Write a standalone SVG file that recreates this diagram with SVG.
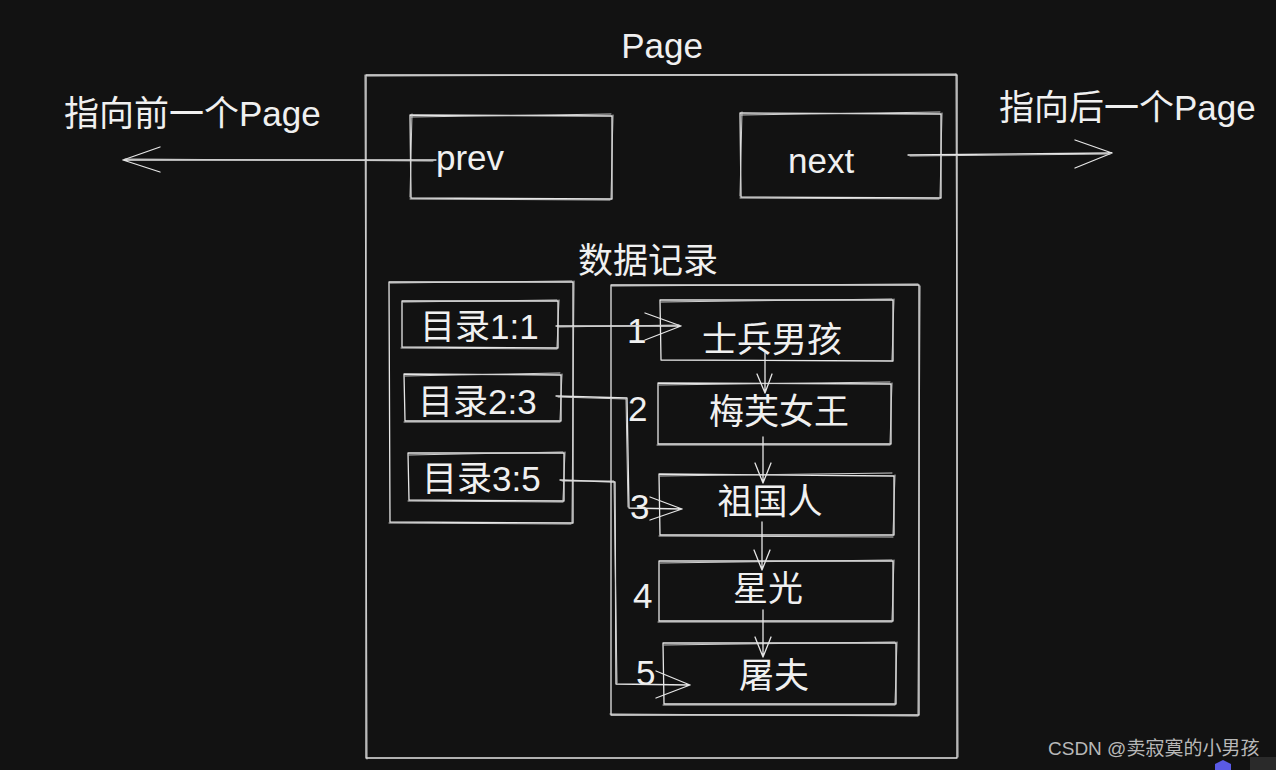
<svg xmlns="http://www.w3.org/2000/svg" width="1276" height="770" viewBox="0 0 1276 770">
<style>
.s{fill:none;stroke:#e6e6e6;stroke-width:1.3;stroke-linecap:round;stroke-linejoin:round}
.s2{fill:none;stroke:#cfcfcf;stroke-width:1;stroke-linecap:round}
.t{fill:#f0f0f0;font-family:"Liberation Sans","Noto Sans CJK SC",sans-serif;font-size:35px}
.c{text-anchor:middle}
.w{fill:#b8b8b8;font-family:"Liberation Sans","Noto Sans CJK SC",sans-serif;font-size:19px}
</style>
<rect width="1276" height="770" fill="#121212"/>
<g id="page">
<path class="s" d="M366 75 L957 75 L957 758 L366 758 Z"/>
<path class="s2" d="M367 76 L956 74 M956 74 L958 757 M365 75 L367 759"/>
<text class="t c" x="662" y="58">Page</text>
</g>
<g id="prev">
<path class="s" d="M410 115 L612 116 L612 199 L411 198 Z"/>
<path class="s2" d="M411 117 L611 114 M613 115 L611 198 M410 199 L610 200 M412 114 L410 197"/>
<text class="t" x="436" y="170">prev</text>
</g>
<g id="next">
<path class="s" d="M740 113 L941 114 L941 198 L741 197 Z"/>
<path class="s2" d="M741 115 L940 112 M942 113 L940 197 M740 198 L939 199 M742 112 L740 196"/>
<text class="t" x="788" y="173">next</text>
</g>
<g id="label-prev"><text class="t" x="64" y="126" font-size="37">指向前一个Page</text></g>
<g id="label-next"><text class="t" x="999" y="120" font-size="37">指向后一个Page</text></g>
<g id="data-title"><text class="t" x="578" y="273" font-size="38">数据记录</text></g>
<g id="dir">
<path class="s" d="M389 282 L573 282 L573 523 L390 522 Z"/>
<path class="s2" d="M390 283 L572 281 M574 281 L572 522 M389 523 L571 524"/>
</g>
<g id="dir1">
<path class="s" d="M402 301 L558 301 L558 348 L402 347 Z"/>
<path class="s2" d="M403 302 L557 300 M559 300 L557 347 M401 348 L557 349"/>
<text class="t" x="420" y="339">目录1:1</text>
</g>
<g id="dir2">
<path class="s" d="M404 374 L561 375 L561 421 L405 421 Z"/>
<path class="s2" d="M405 376 L560 373 M562 374 L560 420 M404 422 L560 422"/>
<text class="t" x="418" y="414">目录2:3</text>
</g>
<g id="dir3">
<path class="s" d="M408 453 L564 453 L564 501 L409 500 Z"/>
<path class="s2" d="M409 455 L563 452 M565 452 L563 500 M408 501 L563 502"/>
<text class="t" x="422" y="491">目录3:5</text>
</g>
<g id="data">
<path class="s" d="M611 285 L919 285 L919 715 L611 715 Z"/>
<path class="s2" d="M612 286 L918 284 M920 286 L918 714 M610 714 L918 716"/>
</g>
<g id="rec1">
<path class="s" d="M660 300 L893 300 L893 361 L661 360 Z"/>
<path class="s2" d="M661 302 L892 299 M894 299 L892 360"/>
<text class="t c" x="772" y="352">士兵男孩</text>
</g>
<g id="rec2">
<path class="s" d="M658 383 L891 384 L891 444 L658 444 Z"/>
<path class="s2" d="M659 385 L890 382 M892 383 L890 443 M657 445 L890 445"/>
<text class="t c" x="779" y="424">梅芙女王</text>
</g>
<g id="rec3">
<path class="s" d="M659 474 L894 476 L894 535 L660 535 Z"/>
<path class="s2" d="M660 476 L892 473 M895 475 L893 534 M659 536 L893 537"/>
<text class="t c" x="770" y="514">祖国人</text>
</g>
<g id="rec4">
<path class="s" d="M659 561 L893 561 L893 621 L659 621 Z"/>
<path class="s2" d="M660 563 L892 560 M894 560 L892 620 M658 622 L892 622"/>
<text class="t c" x="768" y="601">星光</text>
</g>
<g id="rec5">
<path class="s" d="M663 643 L896 643 L896 704 L664 704 Z"/>
<path class="s2" d="M664 645 L895 642 M897 642 L895 703 M663 705 L895 705"/>
<text class="t c" x="774" y="688">屠夫</text>
</g>
<g id="nums">
<text class="t" x="627" y="343">1</text>
<text class="t" x="628" y="421">2</text>
<text class="t" x="630" y="519">3</text>
<text class="t" x="633" y="608">4</text>
<text class="t" x="636" y="685">5</text>
</g>
<g id="connectors">
<path class="s" d="M436 160 L123 160 M123 160 L160 147 M123 160 L160 172"/>
<path class="s2" d="M433 161 L125 159"/>
<path class="s" d="M908 155 L1112 153 M1112 153 L1075 140 M1112 153 L1075 168"/>
<path class="s2" d="M910 156 L1110 154"/>
<path class="s" d="M556 326 L681 326 M681 326 L645 313 M681 326 L645 340"/>
<path class="s2" d="M558 327 L679 325"/>
<path class="s" d="M556 396 L627 398 L629 508 L682 509 M682 509 L650 497 M682 509 L650 520"/>
<path class="s2" d="M558 397 L626 399 L628 507"/>
<path class="s" d="M560 480 L615 482 L616 684 L690 685 M690 685 L656 671 M690 685 L656 698"/>
<path class="s2" d="M562 481 L614 481 L617 683"/>
<path class="s" d="M765 353 L765 393 M765 393 L757 374 M765 393 L772 374"/>
<path class="s" d="M763 437 L763 483 M763 483 L755 463 M763 483 L771 463"/>
<path class="s" d="M762 522 L762 570 M762 570 L754 550 M762 570 L770 550"/>
<path class="s" d="M763 610 L763 657 M763 657 L755 637 M763 657 L771 637"/>
</g>
<g id="watermark">
<text class="w" x="1048" y="755">CSDN @卖寂寞的小男孩</text>
<path d="M1223 760 L1231 764 L1231 770 L1215 770 L1215 764 Z" fill="#5a5ae6"/>
<rect x="1250" y="757" width="26" height="13" fill="#2a2a2a"/>
</g>
</svg>
